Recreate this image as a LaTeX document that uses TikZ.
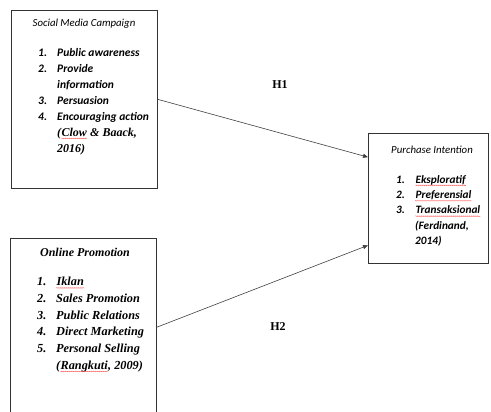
\documentclass[tikz,border=0pt]{standalone}
\usepackage{fontspec}
\setmainfont{Liberation Serif}
\newfontfamily\calibri{Carlito}
\usetikzlibrary{arrows.meta,calc,decorations.pathmorphing}

\newcommand\spellwave[1]{\tikz[baseline=(w.base)]{\node[inner sep=0pt, anchor=base, draw=none] (w) {#1};
  \draw[red!80, line width=0.25pt, decorate, decoration={snake, amplitude=0.5pt, segment length=2pt}]
    ([yshift=-2.2pt]w.base west) -- ([yshift=-2.2pt]w.base east);}}
\newcommand\numitem[2]{\makebox[19pt][l]{#1}#2}
\newcommand\numgap{\hspace*{19pt}}

\tikzset{
  varbox/.style={draw=black!80, line width=0.6pt, inner sep=0pt, anchor=north west},
  caltitle/.style={font=\calibri\itshape\fontsize{10.8}{13}\selectfont, inner sep=0pt},
  callist/.style={font=\calibri\bfseries\itshape\fontsize{11.5}{16}\selectfont, align=left, inner sep=0pt, anchor=north west},
  timestitle/.style={font=\bfseries\itshape\fontsize{12}{14}\selectfont, inner sep=0pt},
  timeslist/.style={font=\bfseries\itshape\fontsize{12.3}{16.7}\selectfont, align=left, inner sep=0pt, anchor=north west},
  hyplabel/.style={font=\bfseries\fontsize{12}{14}\selectfont, inner sep=0pt},
  link/.style={draw=black!75, line width=0.6pt, -{Triangle[length=5pt,width=4pt]}}
}

\begin{document}
\begin{tikzpicture}[x=1pt,y=-1pt]
\useasboundingbox (0,0) rectangle (491,412);
% variable boxes
\node[varbox, minimum width=146pt, minimum height=178pt] (smc) at (11,10) {};
\node[varbox, minimum width=146pt, minimum height=178pt] (op) at (10,238) {};
\node[varbox, minimum width=120pt, minimum height=130pt] (pi) at (368,133) {};
% social media campaign
\node[caltitle] (smctitle) at (84,24) {Social Media Campaign};
\node[callist] (smclist) at (38,48) {\numitem{1.}{Public awareness}\\
  \numitem{2.}{Provide}\\
  \numgap information\\
  \numitem{3.}{Persuasion}\\
  \numitem{4.}{Encouraging action}\\
  \numgap{\rmfamily\fontsize{12}{16}\selectfont(\spellwave{Clow} \& Baack,}\\
  \numgap{\rmfamily\fontsize{12}{15}\selectfont 2016)}};
% online promotion
\node[timestitle] (optitle) at (85,252) {Online Promotion};
\node[timeslist] (oplist) at (37,277) {\numitem{1.}{\spellwave{Iklan}}\\
  \numitem{2.}{Sales Promotion}\\
  \numitem{3.}{Public Relations}\\
  \numitem{4.}{Direct Marketing}\\
  \numitem{5.}{Personal Selling}\\
  \numgap(\spellwave{Rangkuti}, 2009)};
% purchase intention
\node[caltitle] (pititle) at (432,150) {Purchase Intention};
\node[callist, font=\calibri\bfseries\itshape\fontsize{11.3}{15.4}\selectfont] (pilist) at (396,175) {\numitem{1.}{\spellwave{Eksploratif}}\\
  \numitem{2.}{\spellwave{Preferensial}}\\
  \numitem{3.}{\spellwave{Transaksional}}\\
  \numgap(Ferdinand,\\
  \numgap 2014)};
% hypotheses
\draw[link] (smc.east) -- ($(pi.north west)!0.185!(pi.south west)$);
\draw[link] (op.east) -- ($(pi.north west)!0.86!(pi.south west)$);
\node[hyplabel] (h1) at (280,85) {H1};
\node[hyplabel] (h2) at (278,327) {H2};
\end{tikzpicture}
\end{document}
